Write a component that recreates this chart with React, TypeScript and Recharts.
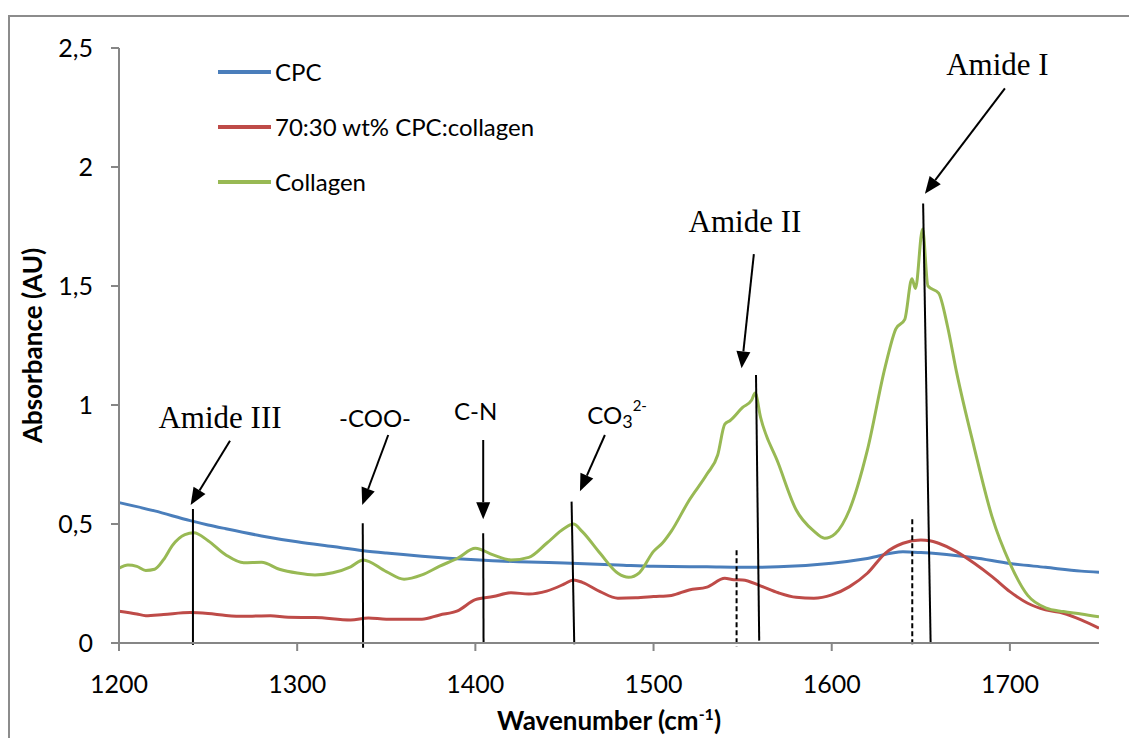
import { LineChart, Line, XAxis, YAxis, ReferenceLine, ReferenceDot, Legend } from "recharts";

const seriesNames = ["CPC", "70:30 wt% CPC:collagen", "Collagen"];

const cpcWn = [1200, 1220, 1240, 1250, 1260, 1280, 1300, 1320, 1337, 1350, 1370, 1400, 1430, 1450, 1480, 1500, 1530, 1550, 1570, 1600, 1620, 1640, 1650, 1660, 1680, 1700, 1720, 1740, 1750];
const cpcAbs = [0.59, 0.555, 0.514, 0.496, 0.48, 0.45, 0.425, 0.405, 0.388, 0.378, 0.365, 0.35, 0.34, 0.336, 0.328, 0.322, 0.32, 0.318, 0.32, 0.335, 0.355, 0.383, 0.38, 0.375, 0.358, 0.334, 0.318, 0.302, 0.297];

const mixWn = [1200, 1210, 1215, 1225, 1240, 1250, 1260, 1270, 1285, 1295, 1310, 1330, 1340, 1350, 1360, 1370, 1380, 1390, 1400, 1410, 1420, 1430, 1440, 1450, 1455, 1460, 1470, 1480, 1490, 1500, 1510, 1520, 1530, 1540, 1545, 1550, 1560, 1570, 1580, 1590, 1600, 1610, 1620, 1630, 1640, 1650, 1655, 1660, 1670, 1680, 1690, 1700, 1710, 1720, 1730, 1740, 1750];
const mixAbs = [0.134, 0.122, 0.115, 0.12, 0.128, 0.124, 0.116, 0.112, 0.115, 0.108, 0.107, 0.097, 0.105, 0.1, 0.1, 0.1, 0.118, 0.135, 0.182, 0.195, 0.211, 0.206, 0.218, 0.248, 0.265, 0.255, 0.216, 0.188, 0.19, 0.195, 0.2, 0.223, 0.235, 0.272, 0.266, 0.265, 0.24, 0.211, 0.192, 0.188, 0.202, 0.237, 0.293, 0.377, 0.419, 0.433, 0.43, 0.419, 0.384, 0.335, 0.279, 0.216, 0.167, 0.139, 0.125, 0.097, 0.062];

const colWn = [1200, 1205, 1210, 1215, 1220, 1225, 1230, 1237, 1242, 1250, 1260, 1270, 1280, 1290, 1300, 1310, 1320, 1330, 1337, 1350, 1360, 1370, 1380, 1390, 1400, 1410, 1420, 1430, 1440, 1450, 1455, 1460, 1470, 1480, 1486, 1492, 1500, 1505, 1510, 1520, 1530, 1536, 1540, 1543, 1550, 1555, 1557, 1560, 1570, 1580, 1590, 1596, 1602, 1610, 1620, 1630, 1636, 1641, 1645, 1647, 1651, 1654, 1660, 1665, 1670, 1680, 1690, 1700, 1710, 1720, 1730, 1740, 1750];
const colAbs = [0.314, 0.328, 0.322, 0.305, 0.31, 0.35, 0.41, 0.455, 0.463, 0.43, 0.37, 0.337, 0.339, 0.31, 0.294, 0.286, 0.295, 0.32, 0.349, 0.3, 0.268, 0.286, 0.323, 0.356, 0.398, 0.37, 0.349, 0.36, 0.419, 0.482, 0.5, 0.468, 0.377, 0.293, 0.276, 0.295, 0.385, 0.42, 0.47, 0.6, 0.71, 0.79, 0.92, 0.935, 0.99, 1.02, 1.05, 0.95, 0.755, 0.56, 0.47, 0.44, 0.46, 0.56, 0.81, 1.16, 1.32, 1.36, 1.53, 1.49, 1.74, 1.5, 1.47, 1.33, 1.14, 0.82, 0.53, 0.335, 0.2, 0.148, 0.132, 0.122, 0.11];

const xTicks = [1200, 1300, 1400, 1500, 1600, 1700];
const yTicks = [0, 0.5, 1, 1.5, 2, 2.5];

// peak markers: [wn top, abs top, wn bottom, abs bottom]
const peakLines = [
  [1241.5, 0.563, 1241.5, -0.008],
  [1336.8, 0.503, 1337, -0.02],
  [1404.4, 0.461, 1404.6, 0],
  [1454, 0.594, 1455.5, -0.005],
  [1557.5, 1.126, 1559.3, 0.01],
  [1651.3, 1.847, 1655.5, 0],
];
const dashedLines = [
  [1546.6, 0.39, 1546.6, -0.015],
  [1645.2, 0.52, 1645.2, -0.005],
];
// arrows: tail -> tip
const arrows = [
  [1262.3, 0.85, 1240.2, 0.58],
  [1351.1, 0.874, 1336.5, 0.58],
  [1404.4, 0.853, 1404.4, 0.52],
  [1472.7, 0.874, 1458.7, 0.638],
  [1556.3, 1.634, 1549.4, 1.154],
  [1697.2, 2.33, 1652.3, 1.888],
];
const serifLabels = [
  { text: "Amide III", wn: 1256.7, abs: 0.903 },
  { text: "Amide II", wn: 1551.3, abs: 1.728 },
  { text: "Amide I", wn: 1693, abs: 2.387 },
];
const sansLabels = [
  { text: "-COO-", wn: 1343.7, abs: 0.909 },
  { text: "C-N", wn: 1400.2, abs: 0.937 },
];
const carbonateLabel = { wn: 1462.8, abs: 0.919 };

const SANS = "Lato, 'Open Sans', sans-serif";

const toData = (wn: number[], abs: number[]) => wn.map((w, i) => ({ wn: w, abs: abs[i] }));

const arrowShape = (props: any) => {
  const { x1, y1, x2, y2 } = props;
  const dx = x2 - x1;
  const dy = y2 - y1;
  const len = Math.hypot(dx, dy) || 1;
  const ux = dx / len;
  const uy = dy / len;
  const hl = 17;
  const hw = 7;
  const bx = x2 - ux * hl;
  const by = y2 - uy * hl;
  const pts = `${x2},${y2} ${bx - uy * hw},${by + ux * hw} ${bx + uy * hw},${by - ux * hw}`;
  return (
    <g>
      <line x1={x1} y1={y1} x2={bx} y2={by} stroke="#000" strokeWidth={2} />
      <polygon points={pts} fill="#000" />
    </g>
  );
};

const renderLegend = (props: any) => {
  const items = [...(props.payload || [])].sort(
    (a: any, b: any) => seriesNames.indexOf(a.value) - seriesNames.indexOf(b.value)
  );
  return (
    <div style={{ fontFamily: SANS, fontSize: 24, color: "#000" }}>
      {items.map((entry: any) => (
        <div key={entry.value} style={{ display: "flex", alignItems: "center", height: 55 }}>
          <span style={{ display: "inline-block", width: 53, height: 4, background: entry.color, marginRight: 4 }} />
          <span>{entry.value}</span>
        </div>
      ))}
    </div>
  );
};

const xTitle = (props: any) => {
  const { viewBox } = props;
  return (
    <text x={viewBox.x + viewBox.width / 2} y={viewBox.y + 87} textAnchor="middle" fontFamily={SANS} fontSize={26} fontWeight={700} fill="#000">
      Wavenumber (cm<tspan fontSize={16} dy={-10}>-1</tspan><tspan dy={10}>)</tspan>
    </text>
  );
};

const yTitle = (props: any) => {
  const { viewBox } = props;
  const cx = viewBox.x + 22;
  const cy = viewBox.y + viewBox.height / 2;
  return (
    <text x={cx} y={cy} transform={`rotate(-90 ${cx} ${cy})`} textAnchor="middle" dominantBaseline="central" fontFamily={SANS} fontSize={26} fontWeight={700} fill="#000">
      Absorbance (AU)
    </text>
  );
};

export default function App() {
  return (
    <div
      style={{
        position: "absolute",
        left: 8,
        top: 15,
        width: 1119,
        height: 721,
        borderLeft: "2px solid #8c8c8c",
        borderTop: "2px solid #8c8c8c",
        background: "#fff",
      }}
    >
      <LineChart width={1119} height={721} margin={{ top: 31, right: 30, bottom: 0, left: 0 }}>
        <XAxis
          dataKey="wn"
          type="number"
          domain={[1200, 1750]}
          ticks={xTicks}
          allowDataOverflow
          height={95}
          stroke="#868686"
          strokeWidth={2}
          tickSize={8}
          tickMargin={24}
          tick={{ fontFamily: SANS, fontSize: 25, fill: "#000" }}
          label={{ content: xTitle }}
        />
        <YAxis
          dataKey="abs"
          type="number"
          domain={[0, 2.5]}
          ticks={yTicks}
          width={109}
          stroke="#868686"
          strokeWidth={2}
          tickSize={8}
          tickMargin={18}
          tick={{ fontFamily: SANS, fontSize: 25, fill: "#000" }}
          tickFormatter={(v: number) => String(v).replace(".", ",")}
          label={{ content: yTitle }}
        />
        <Legend
          layout="horizontal"
          verticalAlign="middle"
          align="center"
          content={renderLegend}
          wrapperStyle={{ left: 208, top: 27, width: 440 }}
        />
        <Line data={toData(cpcWn, cpcAbs)} dataKey="abs" name={seriesNames[0]} type="monotone" stroke="#4A7EBB" strokeWidth={3} dot={false} isAnimationActive={false} />
        <Line data={toData(mixWn, mixAbs)} dataKey="abs" name={seriesNames[1]} type="monotone" stroke="#BE4B48" strokeWidth={3} dot={false} isAnimationActive={false} />
        <Line data={toData(colWn, colAbs)} dataKey="abs" name={seriesNames[2]} type="monotone" stroke="#98B954" strokeWidth={3} dot={false} isAnimationActive={false} />

        {peakLines.map((l, i) => (
          <ReferenceLine key={`p${i}`} segment={[{ x: l[0], y: l[1] }, { x: l[2], y: l[3] }]} stroke="#000" strokeWidth={2} ifOverflow="visible" />
        ))}
        {dashedLines.map((l, i) => (
          <ReferenceLine key={`d${i}`} segment={[{ x: l[0], y: l[1] }, { x: l[2], y: l[3] }]} stroke="#000" strokeWidth={2} strokeDasharray="5 3" ifOverflow="visible" />
        ))}
        {arrows.map((a, i) => (
          <ReferenceLine key={`a${i}`} segment={[{ x: a[0], y: a[1] }, { x: a[2], y: a[3] }]} shape={arrowShape} ifOverflow="visible" />
        ))}
        {serifLabels.map((l) => (
          <ReferenceDot
            key={l.text}
            x={l.wn}
            y={l.abs}
            ifOverflow="visible"
            shape={(p: any) => (
              <text x={p.cx} y={p.cy} textAnchor="middle" fontFamily="'Liberation Serif', 'Times New Roman', serif" fontSize={31} fill="#000">
                {l.text}
              </text>
            )}
          />
        ))}
        {sansLabels.map((l) => (
          <ReferenceDot
            key={l.text}
            x={l.wn}
            y={l.abs}
            ifOverflow="visible"
            shape={(p: any) => (
              <text x={p.cx} y={p.cy} textAnchor="middle" fontFamily={SANS} fontSize={24} fill="#000">
                {l.text}
              </text>
            )}
          />
        ))}
        <ReferenceDot
          x={carbonateLabel.wn}
          y={carbonateLabel.abs}
          ifOverflow="visible"
          shape={(p: any) => (
            <text x={p.cx} y={p.cy} textAnchor="start" fontFamily={SANS} fontSize={24} fill="#000">
              CO<tspan fontSize={18} dy={4}>3</tspan><tspan fontSize={15} dy={-17}>2-</tspan>
            </text>
          )}
        />
      </LineChart>
    </div>
  );
}
